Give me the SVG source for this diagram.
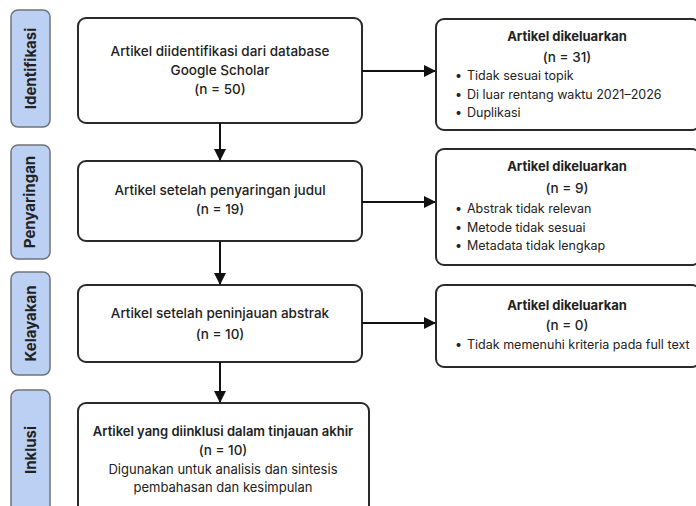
<svg xmlns="http://www.w3.org/2000/svg" width="696" height="506" viewBox="0 0 696 506">
<style>
.side{fill:#bcd0f3;stroke:#6f737a;stroke-width:1.5}
.box{fill:#fff;stroke:#2a2a2a;stroke-width:2}
.st{font-family:Inter,"Open Sans",sans-serif;font-size:15px;font-weight:700;fill:#222;text-anchor:middle}
.t{font-family:Inter,"Open Sans",sans-serif;font-size:13.5px;font-weight:500;fill:#222;text-anchor:middle}
.d{font-family:Inter,"Open Sans",sans-serif;font-size:13px;font-weight:400;fill:#222;text-anchor:middle}
.b{font-family:Inter,"Open Sans",sans-serif;font-size:13px;font-weight:700;fill:#222;text-anchor:middle}
.h{font-family:Inter,"Open Sans",sans-serif;font-size:13px;font-weight:600;fill:#222;text-anchor:middle}
.l{font-family:Inter,"Open Sans",sans-serif;font-size:12.5px;font-weight:400;fill:#222}
.c{stroke:#111;stroke-width:2;fill:none}
</style>
<defs>
<marker id="ah" markerUnits="userSpaceOnUse" markerWidth="12" markerHeight="12" refX="11" refY="6" orient="auto">
<path d="M0,0 L12,6 L0,12 z" fill="#111"/>
</marker>
</defs>
<rect width="696" height="506" fill="#fff"/>
<g id="stage-identifikasi">
<rect class="side" x="11" y="10" width="39" height="117" rx="7"/>
<text class="st" transform="translate(36,68.5) rotate(-90)">Identifikasi</text>
</g>
<g id="stage-penyaringan">
<rect class="side" x="11" y="145" width="39" height="114" rx="7"/>
<text class="st" transform="translate(35,202) rotate(-90)">Penyaringan</text>
</g>
<g id="stage-kelayakan">
<rect class="side" x="11" y="272" width="39" height="103" rx="7"/>
<text class="st" transform="translate(36,323.5) rotate(-90)">Kelayakan</text>
</g>
<g id="stage-inklusi">
<rect class="side" x="11" y="390" width="39" height="125" rx="7"/>
<text class="st" transform="translate(36,450) rotate(-90)">Inklusi</text>
</g>
<g id="identified">
<rect class="box" x="78" y="18" width="284" height="105" rx="8"/>
<text class="t" x="220" y="56">Artikel diidentifikasi dari database</text>
<text class="t" x="220" y="75">Google Scholar</text>
<text class="t" x="220" y="94">(n = 50)</text>
</g>
<g id="excluded-1">
<rect class="box" x="436" y="19" width="264" height="111" rx="8"/>
<text class="b" x="567" y="41">Artikel dikeluarkan</text>
<text class="t" x="567" y="62">(n = 31)</text>
<text class="l" x="455" y="80">•</text><text class="l" x="467" y="80">Tidak sesuai topik</text>
<text class="l" x="455" y="99">•</text><text class="l" x="467" y="99">Di luar rentang waktu 2021–2026</text>
<text class="l" x="455" y="117">•</text><text class="l" x="467" y="117">Duplikasi</text>
</g>
<g id="screened">
<rect class="box" x="78" y="161" width="284" height="80" rx="8"/>
<text class="t" x="220" y="195">Artikel setelah penyaringan judul</text>
<text class="t" x="220" y="214">(n = 19)</text>
</g>
<g id="excluded-2">
<rect class="box" x="436" y="149" width="264" height="116" rx="8"/>
<text class="b" x="567" y="171">Artikel dikeluarkan</text>
<text class="t" x="567" y="193">(n = 9)</text>
<text class="l" x="455" y="213">•</text><text class="l" x="467" y="213">Abstrak tidak relevan</text>
<text class="l" x="455" y="232">•</text><text class="l" x="467" y="232">Metode tidak sesuai</text>
<text class="l" x="455" y="250">•</text><text class="l" x="467" y="250">Metadata tidak lengkap</text>
</g>
<g id="eligible">
<rect class="box" x="78" y="285" width="284" height="77" rx="8"/>
<text class="t" x="220" y="318">Artikel setelah peninjauan abstrak</text>
<text class="t" x="220" y="339">(n = 10)</text>
</g>
<g id="excluded-3">
<rect class="box" x="436" y="285" width="264" height="82" rx="8"/>
<text class="b" x="567" y="310">Artikel dikeluarkan</text>
<text class="t" x="567" y="330">(n = 0)</text>
<text class="l" x="455" y="349">•</text><text class="l" x="467" y="349">Tidak memenuhi kriteria pada full text</text>
</g>
<g id="included">
<rect class="box" x="78" y="403" width="291" height="115" rx="8"/>
<text class="h" x="223" y="436">Artikel yang diinklusi dalam tinjauan akhir</text>
<text class="t" x="223" y="455">(n = 10)</text>
<text class="d" x="223" y="474">Digunakan untuk analisis dan sintesis</text>
<text class="d" x="223" y="492">pembahasan dan kesimpulan</text>
</g>
<g id="connectors">
<line class="c" x1="220" y1="123" x2="220" y2="160" marker-end="url(#ah)"/>
<line class="c" x1="220" y1="241" x2="220" y2="284" marker-end="url(#ah)"/>
<line class="c" x1="220" y1="362" x2="220" y2="402" marker-end="url(#ah)"/>
<line class="c" x1="362" y1="71" x2="435" y2="71" marker-end="url(#ah)"/>
<line class="c" x1="362" y1="202" x2="435" y2="202" marker-end="url(#ah)"/>
<line class="c" x1="362" y1="323" x2="435" y2="323" marker-end="url(#ah)"/>
</g>
</svg>
